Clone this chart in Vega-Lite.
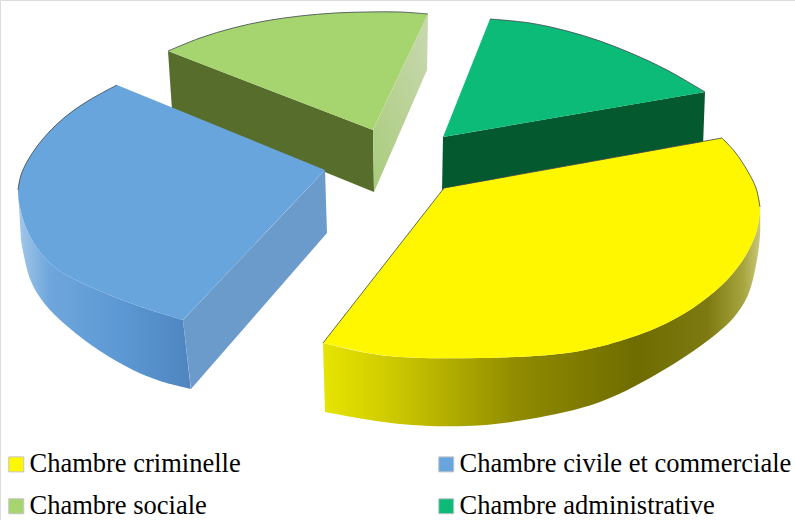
{
  "$schema": "https://vega.github.io/schema/vega-lite/v6.json",
  "width": 795,
  "height": 520,
  "padding": 0,
  "autosize": {"type": "none"},
  "background": "white",
  "datasets": {
    "faces": [
      {"face":"adminWall","chambre":"Chambre administrative","n":0,"x":443,"y":137},
      {"face":"adminWall","chambre":"Chambre administrative","n":1,"x":705,"y":92},
      {"face":"adminWall","chambre":"Chambre administrative","n":2,"x":703,"y":146},
      {"face":"adminWall","chambre":"Chambre administrative","n":3,"x":442,"y":192},

      {"face":"socialeAvant","chambre":"Chambre sociale","n":0,"x":168,"y":51},
      {"face":"socialeAvant","chambre":"Chambre sociale","n":1,"x":373,"y":130},
      {"face":"socialeAvant","chambre":"Chambre sociale","n":2,"x":374,"y":192},
      {"face":"socialeAvant","chambre":"Chambre sociale","n":3,"x":172,"y":110},

      {"face":"socialeCote","chambre":"Chambre sociale","n":0,"x":373,"y":130},
      {"face":"socialeCote","chambre":"Chambre sociale","n":1,"x":428,"y":14},
      {"face":"socialeCote","chambre":"Chambre sociale","n":2,"x":427,"y":70},
      {"face":"socialeCote","chambre":"Chambre sociale","n":3,"x":374,"y":192},

      {"face":"civileCote","chambre":"Chambre civile et commerciale","n":0,"x":325,"y":170},
      {"face":"civileCote","chambre":"Chambre civile et commerciale","n":1,"x":183,"y":320},
      {"face":"civileCote","chambre":"Chambre civile et commerciale","n":2,"x":191,"y":389},
      {"face":"civileCote","chambre":"Chambre civile et commerciale","n":3,"x":327,"y":233},

      {"face":"civileCourbe","chambre":"Chambre civile et commerciale","n":0,"x":18,"y":190},
      {"face":"civileCourbe","chambre":"Chambre civile et commerciale","n":1,"x":21,"y":212},
      {"face":"civileCourbe","chambre":"Chambre civile et commerciale","n":2,"x":28,"y":232},
      {"face":"civileCourbe","chambre":"Chambre civile et commerciale","n":3,"x":40,"y":252},
      {"face":"civileCourbe","chambre":"Chambre civile et commerciale","n":4,"x":57,"y":269},
      {"face":"civileCourbe","chambre":"Chambre civile et commerciale","n":5,"x":78,"y":281},
      {"face":"civileCourbe","chambre":"Chambre civile et commerciale","n":6,"x":100,"y":291},
      {"face":"civileCourbe","chambre":"Chambre civile et commerciale","n":7,"x":133,"y":304},
      {"face":"civileCourbe","chambre":"Chambre civile et commerciale","n":8,"x":160,"y":313},
      {"face":"civileCourbe","chambre":"Chambre civile et commerciale","n":9,"x":183,"y":320},
      {"face":"civileCourbe","chambre":"Chambre civile et commerciale","n":9.5,"x":183,"y":320},
      {"face":"civileCourbe","chambre":"Chambre civile et commerciale","n":10,"x":191,"y":389},
      {"face":"civileCourbe","chambre":"Chambre civile et commerciale","n":10.5,"x":191,"y":389},
      {"face":"civileCourbe","chambre":"Chambre civile et commerciale","n":11,"x":160,"y":381},
      {"face":"civileCourbe","chambre":"Chambre civile et commerciale","n":12,"x":133,"y":370},
      {"face":"civileCourbe","chambre":"Chambre civile et commerciale","n":13,"x":100,"y":351},
      {"face":"civileCourbe","chambre":"Chambre civile et commerciale","n":14,"x":67,"y":326},
      {"face":"civileCourbe","chambre":"Chambre civile et commerciale","n":15,"x":44,"y":303},
      {"face":"civileCourbe","chambre":"Chambre civile et commerciale","n":16,"x":30,"y":279},
      {"face":"civileCourbe","chambre":"Chambre civile et commerciale","n":17,"x":21,"y":240},

      {"face":"crimCourbe","chambre":"Chambre criminelle","n":0,"x":323,"y":343},
      {"face":"crimCourbe","chambre":"Chambre criminelle","n":1,"x":367,"y":353},
      {"face":"crimCourbe","chambre":"Chambre criminelle","n":2,"x":400,"y":357},
      {"face":"crimCourbe","chambre":"Chambre criminelle","n":3,"x":480,"y":358},
      {"face":"crimCourbe","chambre":"Chambre criminelle","n":4,"x":567,"y":353},
      {"face":"crimCourbe","chambre":"Chambre criminelle","n":5,"x":620,"y":341},
      {"face":"crimCourbe","chambre":"Chambre criminelle","n":6,"x":667,"y":323},
      {"face":"crimCourbe","chambre":"Chambre criminelle","n":7,"x":700,"y":303},
      {"face":"crimCourbe","chambre":"Chambre criminelle","n":8,"x":727,"y":280},
      {"face":"crimCourbe","chambre":"Chambre criminelle","n":9,"x":746,"y":255},
      {"face":"crimCourbe","chambre":"Chambre criminelle","n":9.5,"x":757,"y":230},
      {"face":"crimCourbe","chambre":"Chambre criminelle","n":10,"x":760,"y":207},
      {"face":"crimCourbe","chambre":"Chambre criminelle","n":10.5,"x":760,"y":207},
      {"face":"crimCourbe","chambre":"Chambre criminelle","n":11,"x":760,"y":236},
      {"face":"crimCourbe","chambre":"Chambre criminelle","n":12,"x":756,"y":265},
      {"face":"crimCourbe","chambre":"Chambre criminelle","n":13,"x":748,"y":295},
      {"face":"crimCourbe","chambre":"Chambre criminelle","n":13.5,"x":735,"y":316},
      {"face":"crimCourbe","chambre":"Chambre criminelle","n":14,"x":715,"y":335},
      {"face":"crimCourbe","chambre":"Chambre criminelle","n":15,"x":667,"y":368},
      {"face":"crimCourbe","chambre":"Chambre criminelle","n":16,"x":600,"y":402},
      {"face":"crimCourbe","chambre":"Chambre criminelle","n":17,"x":530,"y":419},
      {"face":"crimCourbe","chambre":"Chambre criminelle","n":18,"x":467,"y":426},
      {"face":"crimCourbe","chambre":"Chambre criminelle","n":19,"x":400,"y":424},
      {"face":"crimCourbe","chambre":"Chambre criminelle","n":20,"x":325,"y":412},

      {"face":"dessus","chambre":"Chambre sociale","n":0,"x":168,"y":51,"arc":1},
      {"face":"dessus","chambre":"Chambre sociale","n":1,"x":200,"y":38,"arc":1},
      {"face":"dessus","chambre":"Chambre sociale","n":2,"x":233,"y":28,"arc":1},
      {"face":"dessus","chambre":"Chambre sociale","n":3,"x":265,"y":21,"arc":1},
      {"face":"dessus","chambre":"Chambre sociale","n":4,"x":300,"y":16,"arc":1},
      {"face":"dessus","chambre":"Chambre sociale","n":5,"x":335,"y":13,"arc":1},
      {"face":"dessus","chambre":"Chambre sociale","n":6,"x":367,"y":12,"arc":1},
      {"face":"dessus","chambre":"Chambre sociale","n":7,"x":400,"y":12,"arc":1},
      {"face":"dessus","chambre":"Chambre sociale","n":8,"x":428,"y":14,"arc":1},
      {"face":"dessus","chambre":"Chambre sociale","n":8.5,"x":428,"y":14},
      {"face":"dessus","chambre":"Chambre sociale","n":9,"x":373,"y":130},

      {"face":"dessus","chambre":"Chambre administrative","n":0,"x":490,"y":19,"arc":1},
      {"face":"dessus","chambre":"Chambre administrative","n":1,"x":530,"y":23,"arc":1},
      {"face":"dessus","chambre":"Chambre administrative","n":2,"x":567,"y":31,"arc":1},
      {"face":"dessus","chambre":"Chambre administrative","n":3,"x":600,"y":41,"arc":1},
      {"face":"dessus","chambre":"Chambre administrative","n":4,"x":633,"y":54,"arc":1},
      {"face":"dessus","chambre":"Chambre administrative","n":5,"x":667,"y":70,"arc":1},
      {"face":"dessus","chambre":"Chambre administrative","n":6,"x":705,"y":92,"arc":1},
      {"face":"dessus","chambre":"Chambre administrative","n":6.5,"x":705,"y":92},
      {"face":"dessus","chambre":"Chambre administrative","n":7,"x":443,"y":137},

      {"face":"dessus","chambre":"Chambre civile et commerciale","n":0,"x":117,"y":85,"arc":1},
      {"face":"dessus","chambre":"Chambre civile et commerciale","n":1,"x":100,"y":94,"arc":1},
      {"face":"dessus","chambre":"Chambre civile et commerciale","n":2,"x":83,"y":104,"arc":1},
      {"face":"dessus","chambre":"Chambre civile et commerciale","n":3,"x":65,"y":117,"arc":1},
      {"face":"dessus","chambre":"Chambre civile et commerciale","n":4,"x":50,"y":131,"arc":1},
      {"face":"dessus","chambre":"Chambre civile et commerciale","n":5,"x":38,"y":145,"arc":1},
      {"face":"dessus","chambre":"Chambre civile et commerciale","n":6,"x":28,"y":160,"arc":1},
      {"face":"dessus","chambre":"Chambre civile et commerciale","n":7,"x":21,"y":175,"arc":1},
      {"face":"dessus","chambre":"Chambre civile et commerciale","n":8,"x":18,"y":190,"arc":1},
      {"face":"dessus","chambre":"Chambre civile et commerciale","n":9,"x":21,"y":212},
      {"face":"dessus","chambre":"Chambre civile et commerciale","n":10,"x":28,"y":232},
      {"face":"dessus","chambre":"Chambre civile et commerciale","n":11,"x":40,"y":252},
      {"face":"dessus","chambre":"Chambre civile et commerciale","n":12,"x":57,"y":269},
      {"face":"dessus","chambre":"Chambre civile et commerciale","n":13,"x":78,"y":281},
      {"face":"dessus","chambre":"Chambre civile et commerciale","n":14,"x":100,"y":291},
      {"face":"dessus","chambre":"Chambre civile et commerciale","n":15,"x":133,"y":304},
      {"face":"dessus","chambre":"Chambre civile et commerciale","n":16,"x":160,"y":313},
      {"face":"dessus","chambre":"Chambre civile et commerciale","n":17,"x":183,"y":320},
      {"face":"dessus","chambre":"Chambre civile et commerciale","n":17.5,"x":183,"y":320},
      {"face":"dessus","chambre":"Chambre civile et commerciale","n":18,"x":325,"y":170},

      {"face":"dessus","chambre":"Chambre criminelle","n":0,"x":323,"y":343,"arc":1},
      {"face":"dessus","chambre":"Chambre criminelle","n":1,"x":444,"y":188,"arc":1},
      {"face":"dessus","chambre":"Chambre criminelle","n":1.5,"x":444,"y":188,"arc":1},
      {"face":"dessus","chambre":"Chambre criminelle","n":3,"x":722,"y":138,"arc":1},
      {"face":"dessus","chambre":"Chambre criminelle","n":3.5,"x":722,"y":138,"arc":1},
      {"face":"dessus","chambre":"Chambre criminelle","n":4,"x":735,"y":152,"arc":1},
      {"face":"dessus","chambre":"Chambre criminelle","n":5,"x":747,"y":170,"arc":1},
      {"face":"dessus","chambre":"Chambre criminelle","n":6,"x":756,"y":188,"arc":1},
      {"face":"dessus","chambre":"Chambre criminelle","n":7,"x":760,"y":207,"arc":1},
      {"face":"dessus","chambre":"Chambre criminelle","n":7.5,"x":757,"y":230},
      {"face":"dessus","chambre":"Chambre criminelle","n":8,"x":746,"y":255},
      {"face":"dessus","chambre":"Chambre criminelle","n":9,"x":727,"y":280},
      {"face":"dessus","chambre":"Chambre criminelle","n":10,"x":700,"y":303},
      {"face":"dessus","chambre":"Chambre criminelle","n":11,"x":667,"y":323},
      {"face":"dessus","chambre":"Chambre criminelle","n":12,"x":620,"y":341},
      {"face":"dessus","chambre":"Chambre criminelle","n":13,"x":567,"y":353},
      {"face":"dessus","chambre":"Chambre criminelle","n":14,"x":480,"y":358},
      {"face":"dessus","chambre":"Chambre criminelle","n":15,"x":400,"y":357},
      {"face":"dessus","chambre":"Chambre criminelle","n":16,"x":367,"y":353}
    ]
  },
  "data": {"name": "faces"},
  "encoding": {
    "x": {"field": "x", "type": "quantitative", "axis": null, "scale": {"domain": [0, 795], "nice": false, "zero": false}},
    "y": {"field": "y", "type": "quantitative", "axis": null, "scale": {"domain": [520, 0], "nice": false, "zero": false}},
    "order": {"field": "n", "type": "quantitative"}
  },
  "layer": [
    {
      "transform": [{"filter": "datum.face === 'adminWall'"}],
      "mark": {"type": "line", "fill": "#04592f", "strokeWidth": 0}
    },
    {
      "transform": [{"filter": "datum.face === 'socialeAvant'"}],
      "mark": {"type": "line", "fill": "#576d2c", "strokeWidth": 0}
    },
    {
      "transform": [{"filter": "datum.face === 'socialeCote'"}],
      "mark": {
        "type": "line", "strokeWidth": 0,
        "fill": {
          "gradient": "linear", "x1": 0, "y1": 1, "x2": 1, "y2": 0,
          "stops": [{"offset": 0, "color": "#a9cc7c"}, {"offset": 1, "color": "#c9d8b0"}]
        }
      }
    },
    {
      "transform": [{"filter": "datum.face === 'civileCote'"}],
      "mark": {"type": "line", "fill": "#6b9bcb", "strokeWidth": 0}
    },
    {
      "transform": [{"filter": "datum.face === 'civileCourbe'"}],
      "mark": {
        "type": "line", "strokeWidth": 0, "interpolate": "catmull-rom",
        "fill": {
          "gradient": "linear", "x1": 0, "y1": 0, "x2": 1, "y2": 0,
          "stops": [
            {"offset": 0, "color": "#a4c8ea"},
            {"offset": 0.18, "color": "#6fa6dc"},
            {"offset": 0.6, "color": "#5c98d3"},
            {"offset": 1, "color": "#4e85bf"}
          ]
        }
      }
    },
    {
      "transform": [{"filter": "datum.face === 'crimCourbe'"}],
      "mark": {
        "type": "line", "strokeWidth": 0, "interpolate": "catmull-rom",
        "fill": {
          "gradient": "linear", "x1": 0, "y1": 0, "x2": 1, "y2": 0,
          "stops": [
            {"offset": 0, "color": "#e6e400"},
            {"offset": 0.15, "color": "#cfcb00"},
            {"offset": 0.45, "color": "#8f8a00"},
            {"offset": 0.72, "color": "#6f6c00"},
            {"offset": 0.88, "color": "#7d7a12"},
            {"offset": 0.96, "color": "#a6a43e"},
            {"offset": 1, "color": "#c9c878"}
          ]
        }
      }
    },
    {
      "transform": [{"filter": "datum.face === 'dessus'"}],
      "mark": {"type": "line", "filled": true, "strokeWidth": 0, "interpolate": "catmull-rom"},
      "encoding": {
        "color": {
          "field": "chambre",
          "type": "nominal",
          "title": null,
          "scale": {
            "domain": ["Chambre criminelle", "Chambre sociale", "Chambre civile et commerciale", "Chambre administrative"],
            "range": ["#fff700", "#a6d46f", "#69a5dd", "#0cbb78"]
          },
          "legend": {
            "orient": "none",
            "legendX": 3,
            "legendY": 451,
            "columns": 2,
            "columnPadding": 192,
            "rowPadding": 15,
            "symbolType": "square",
            "symbolSize": 225,
            "symbolStrokeColor": "#c4c4c4",
            "symbolStrokeWidth": 1,
            "labelFont": "Liberation Serif",
            "labelFontSize": 26.5,
            "labelColor": "#000000",
            "labelLimit": 400,
            "labelOffset": 0
          }
        }
      }
    },
    {
      "transform": [{"filter": "datum.face === 'dessus' && datum.arc === 1"}],
      "mark": {"type": "line", "stroke": "#3c4650", "strokeWidth": 1, "strokeOpacity": 0.8, "interpolate": "catmull-rom"},
      "encoding": {"detail": {"field": "chambre"}}
    }
  ]
}
